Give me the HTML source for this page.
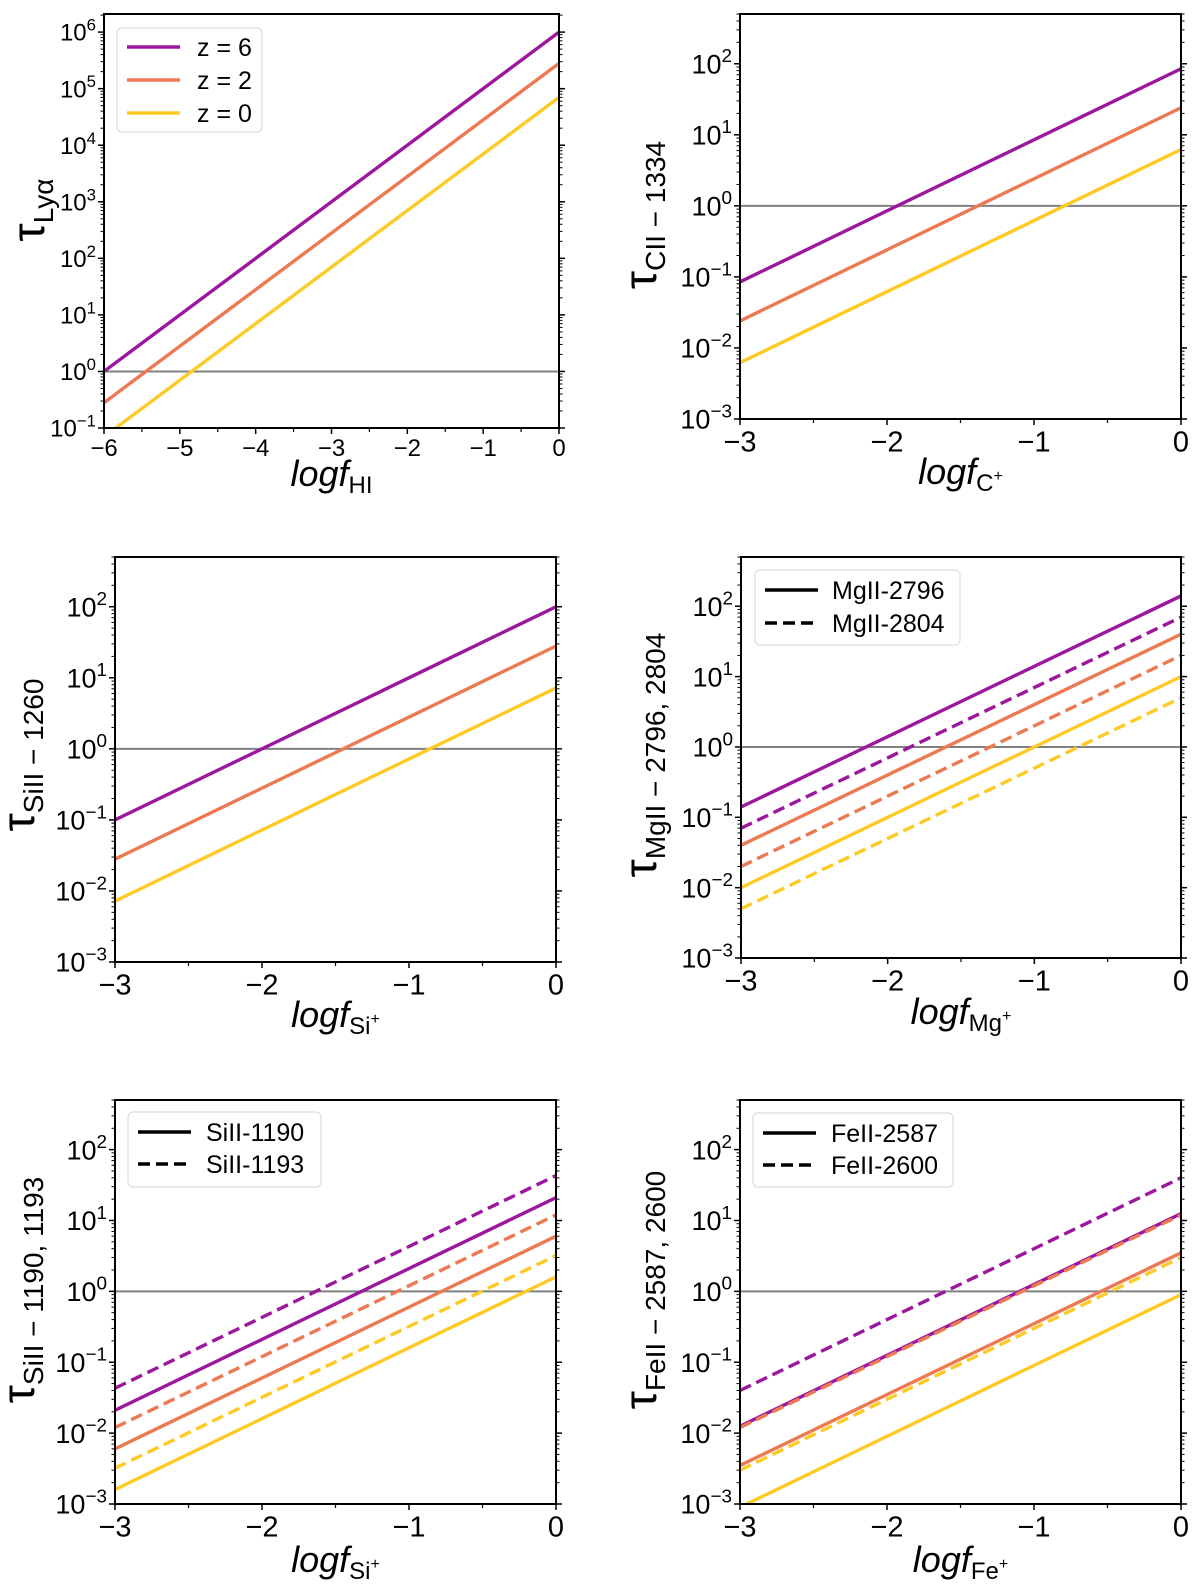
<!DOCTYPE html>
<html><head><meta charset="utf-8"><style>
html,body{margin:0;padding:0;background:#fff;}
svg{display:block;font-family:"Liberation Sans",Arial,sans-serif;}
</style></head><body>
<svg id="fig" width="1200" height="1594" viewBox="0 0 1200 1594" xmlns="http://www.w3.org/2000/svg"></svg>
<script>
// ---- data ----
const zLabels = ["z = 6", "z = 2", "z = 0"];
const xEnds1 = [-6, 0];
const xEnds = [-3, 0];
// tau values at [x start, x end]
const lyaZ6 = [1, 1e6], lyaZ2 = [0.28, 2.8e5], lyaZ0 = [0.07, 7e4];
const ciiZ6 = [0.085, 85], ciiZ2 = [0.024, 24], ciiZ0 = [0.0062, 6.2];
const si1260Z6 = [0.1, 100], si1260Z2 = [0.028, 28], si1260Z0 = [0.0072, 7.2];
const mg2796Z6 = [0.14, 140], mg2796Z2 = [0.04, 40], mg2796Z0 = [0.01, 10];
const mg2804Z6 = [0.07, 70], mg2804Z2 = [0.02, 20], mg2804Z0 = [0.005, 5];
const si1190Z6 = [0.021, 21], si1190Z2 = [0.006, 6], si1190Z0 = [0.0016, 1.6];
const si1193Z6 = [0.043, 43], si1193Z2 = [0.012, 12], si1193Z0 = [0.0032, 3.2];
const fe2587Z6 = [0.0125, 12.5], fe2587Z2 = [0.0035, 3.5], fe2587Z0 = [0.0009, 0.9];
const fe2600Z6 = [0.04, 40], fe2600Z2 = [0.012, 12], fe2600Z0 = [0.003, 3];
const xTicks1 = [-6, -5, -4, -3, -2, -1, 0];
const xTicks = [-3, -2, -1, 0];
const yExp1 = [-1, 0, 1, 2, 3, 4, 5, 6];
const yExp = [-3, -2, -1, 0, 1, 2];

const colors = ["#9c179e", "#ed7953", "#fdca26"];
const NS = "http://www.w3.org/2000/svg";
const fig = document.getElementById("fig");
function mk(tag, attrs, parent) {
  const e = document.createElementNS(NS, tag);
  for (const k in attrs) e.setAttribute(k, attrs[k]);
  (parent || fig).appendChild(e);
  return e;
}

function panel(cfg) {
  const g = mk("g", {});
  
  
  const L = cfg.L, R = cfg.R, T = cfg.T, B = cfg.B;
  const xs = v => L + (v - cfg.xmin) / (cfg.xmax - cfg.xmin) * (R - L);
  const ys = v => B - (Math.log10(v) - cfg.ymin) / (cfg.ymax - cfg.ymin) * (B - T);
  const cid = "c" + cfg.name;
  const cp = mk("clipPath", { id: cid }, g);
  mk("rect", { x: L, y: T, width: R - L, height: B - T }, cp);
  const hl = mk("line", { x1: L, x2: R, y1: ys(1), y2: ys(1), stroke: "#808080", "stroke-width": 2 }, g);
  
  
  const lg = mk("g", { "clip-path": "url(#" + cid + ")" }, g);
  cfg.series.forEach(s => {
    const ln = mk("line", { x1: xs(cfg.xe[0]), y1: ys(s.v[0]), x2: xs(cfg.xe[1]), y2: ys(s.v[1]),
      stroke: s.c, "stroke-width": 3.4, "stroke-dasharray": s.dash ? "12,6" : "none" }, lg);
    
    
  });
  mk("rect", { x: L, y: T, width: R - L, height: B - T, fill: "none", stroke: "#000", "stroke-width": 2 }, g);
  cfg.xt.forEach((t, i) => {
    mk("line", { x1: xs(t), x2: xs(t), y1: B, y2: B + 6, stroke: "#000", "stroke-width": 1.5 }, g);
    if (i < cfg.xt.length - 1) {
      const m = (t + cfg.xt[i + 1]) / 2;
      mk("line", { x1: xs(m), x2: xs(m), y1: B, y2: B + 4, stroke: "#000", "stroke-width": 1.2 }, g);
    }
    const tx = mk("text", { x: xs(t), y: B + 5 + cfg.tfs * 0.95, "text-anchor": "middle", "font-size": cfg.tfs }, g);
    tx.textContent = t < 0 ? "\u2212" + Math.abs(t) : String(t);
    
    
  });
  for (let e = Math.floor(cfg.ymin); e <= Math.ceil(cfg.ymax); e++) {
    for (let m = 1; m < 10; m++) {
      const v = m * Math.pow(10, e);
      const lv = Math.log10(v);
      if (lv < cfg.ymin - 1e-9 || lv > cfg.ymax) continue;
      const len = m === 1 ? 6 : 3.5;
      mk("line", { x1: L - len, x2: L, y1: ys(v), y2: ys(v), stroke: "#000", "stroke-width": m === 1 ? 1.5 : 1 }, g);
      mk("line", { x1: R, x2: R + len, y1: ys(v), y2: ys(v), stroke: "#000", "stroke-width": m === 1 ? 1.5 : 1 }, g);
    }
  }
  cfg.ye.forEach(e => {
    const y = ys(Math.pow(10, e));
    const tx = mk("text", { x: L - 8, y: y + cfg.yfs * 0.36, "text-anchor": "end", "font-size": cfg.yfs }, g);
    
    
    tx.appendChild(document.createTextNode("10"));
    const sp = mk("tspan", { "font-size": cfg.yfs * 0.7, dy: -cfg.yfs * 0.42 }, tx);
    sp.textContent = e < 0 ? "\u2212" + Math.abs(e) : String(e);
  });
  const xl = mk("text", { x: (L + R) / 2, y: cfg.xly, "text-anchor": "middle", "font-size": 36, "font-style": "italic" }, g);
  
  
  xl.appendChild(document.createTextNode("logf"));
  const xs2 = mk("tspan", { "font-size": 24, "font-style": "normal", dy: 7 }, xl);
  xs2.textContent = cfg.xsub;
  if (cfg.xsup) { const sp = mk("tspan", { "font-size": 16, "font-style": "normal", dy: -10 }, xl); sp.textContent = "+"; }
  const yl = mk("text", { x: 0, y: 0, "text-anchor": "middle", transform: "translate(" + cfg.ylx + "," + cfg.ylc + ") rotate(-90)", "font-size": 46 }, g);
  
  
  yl.appendChild(document.createTextNode("\u03C4"));
  const ysb = mk("tspan", { "font-size": 28, dy: 9 }, yl);
  ysb.textContent = cfg.ysub;
  if (cfg.leg) {
    const lgd = mk("g", {}, g);
    
    
    const b = cfg.leg;
    mk("rect", { x: b.x, y: b.y, width: b.w, height: b.h, rx: 5, fill: "#fff", "fill-opacity": 0.8, stroke: "#ddd", "stroke-width": 1.2 }, lgd);
    b.items.forEach((it, i) => {
      const yy = b.y + b.p + i * b.dy;
      const ln = mk("line", { x1: b.x + 10, x2: b.x + 63, y1: yy, y2: yy, stroke: it.c, "stroke-width": 3.4, "stroke-dasharray": it.dash ? "12,6" : "none" }, lgd);
      
      
      const t = mk("text", { x: b.x + b.tx, y: yy + b.fs * 0.36, "font-size": b.fs }, lgd);
      t.textContent = it.t;
      
      
    });
  }
}
function zs(arrs, name, dash) {
  return arrs.map((v, i) => ({ v: v, c: colors[i], dash: dash, name: name + "-" + ["z6", "z2", "z0"][i] }));
}
const YMAX = 2.70;
panel({ name: "panel-lya", L: 104, R: 559, T: 14, B: 428, xmin: -6, xmax: 0, ymin: -1, ymax: 6.32, xe: xEnds1,
  xt: xTicks1, ye: yExp1, tfs: 24, yfs: 24, xly: 486, xsub: "HI", xsup: false, ylx: 44, ylc: 210, ysub: "Ly\u03B1",
  series: zs([lyaZ6, lyaZ2, lyaZ0], "lya", false),
  leg: { x: 117, y: 28, w: 145, h: 104, p: 19, dy: 33, tx: 80, fs: 25,
    items: [{ t: zLabels[0], c: colors[0] }, { t: zLabels[1], c: colors[1] }, { t: zLabels[2], c: colors[2] }] } });
panel({ name: "panel-cii", L: 740, R: 1181, T: 14, B: 419, xmin: -3, xmax: 0, ymin: -3, ymax: YMAX, xe: xEnds,
  xt: xTicks, ye: yExp, tfs: 29, yfs: 27, xly: 484, xsub: "C", xsup: true, ylx: 656, ylc: 215, ysub: "CII \u2212 1334",
  series: zs([ciiZ6, ciiZ2, ciiZ0], "cii1334", false) });
panel({ name: "panel-si1260", L: 115, R: 556, T: 557, B: 962, xmin: -3, xmax: 0, ymin: -3, ymax: YMAX, xe: xEnds,
  xt: xTicks, ye: yExp, tfs: 29, yfs: 27, xly: 1027, xsub: "Si", xsup: true, ylx: 34, ylc: 755, ysub: "SiII \u2212 1260",
  series: zs([si1260Z6, si1260Z2, si1260Z0], "si1260", false) });
panel({ name: "panel-mgii", L: 741, R: 1181, T: 557, B: 958, xmin: -3, xmax: 0, ymin: -3, ymax: YMAX, xe: xEnds,
  xt: xTicks, ye: yExp, tfs: 29, yfs: 27, xly: 1024, xsub: "Mg", xsup: true, ylx: 656, ylc: 755, ysub: "MgII \u2212 2796, 2804",
  series: zs([mg2796Z6, mg2796Z2, mg2796Z0], "mg2796", false).concat(zs([mg2804Z6, mg2804Z2, mg2804Z0], "mg2804", true)),
  leg: { x: 755, y: 570, w: 205, h: 75, p: 20, dy: 33, tx: 77, fs: 25,
    items: [{ t: "MgII-2796", c: "#000" }, { t: "MgII-2804", c: "#000", dash: true }] } });
panel({ name: "panel-si1190", L: 115, R: 556, T: 1100, B: 1504, xmin: -3, xmax: 0, ymin: -3, ymax: YMAX, xe: xEnds,
  xt: xTicks, ye: yExp, tfs: 29, yfs: 27, xly: 1572, xsub: "Si", xsup: true, ylx: 34, ylc: 1290, ysub: "SiII \u2212 1190, 1193",
  series: zs([si1190Z6, si1190Z2, si1190Z0], "si1190", false).concat(zs([si1193Z6, si1193Z2, si1193Z0], "si1193", true)),
  leg: { x: 128, y: 1112, w: 193, h: 75, p: 20, dy: 32, tx: 78, fs: 25,
    items: [{ t: "SiII-1190", c: "#000" }, { t: "SiII-1193", c: "#000", dash: true }] } });
panel({ name: "panel-feii", L: 740, R: 1181, T: 1100, B: 1504, xmin: -3, xmax: 0, ymin: -3, ymax: YMAX, xe: xEnds,
  xt: xTicks, ye: yExp, tfs: 29, yfs: 27, xly: 1572, xsub: "Fe", xsup: true, ylx: 656, ylc: 1290, ysub: "FeII \u2212 2587, 2600",
  series: zs([fe2587Z6, fe2587Z2, fe2587Z0], "fe2587", false).concat(zs([fe2600Z6, fe2600Z2, fe2600Z0], "fe2600", true)),
  leg: { x: 753, y: 1113, w: 200, h: 74, p: 20, dy: 32, tx: 78, fs: 25,
    items: [{ t: "FeII-2587", c: "#000" }, { t: "FeII-2600", c: "#000", dash: true }] } });
</script>
</body></html>
